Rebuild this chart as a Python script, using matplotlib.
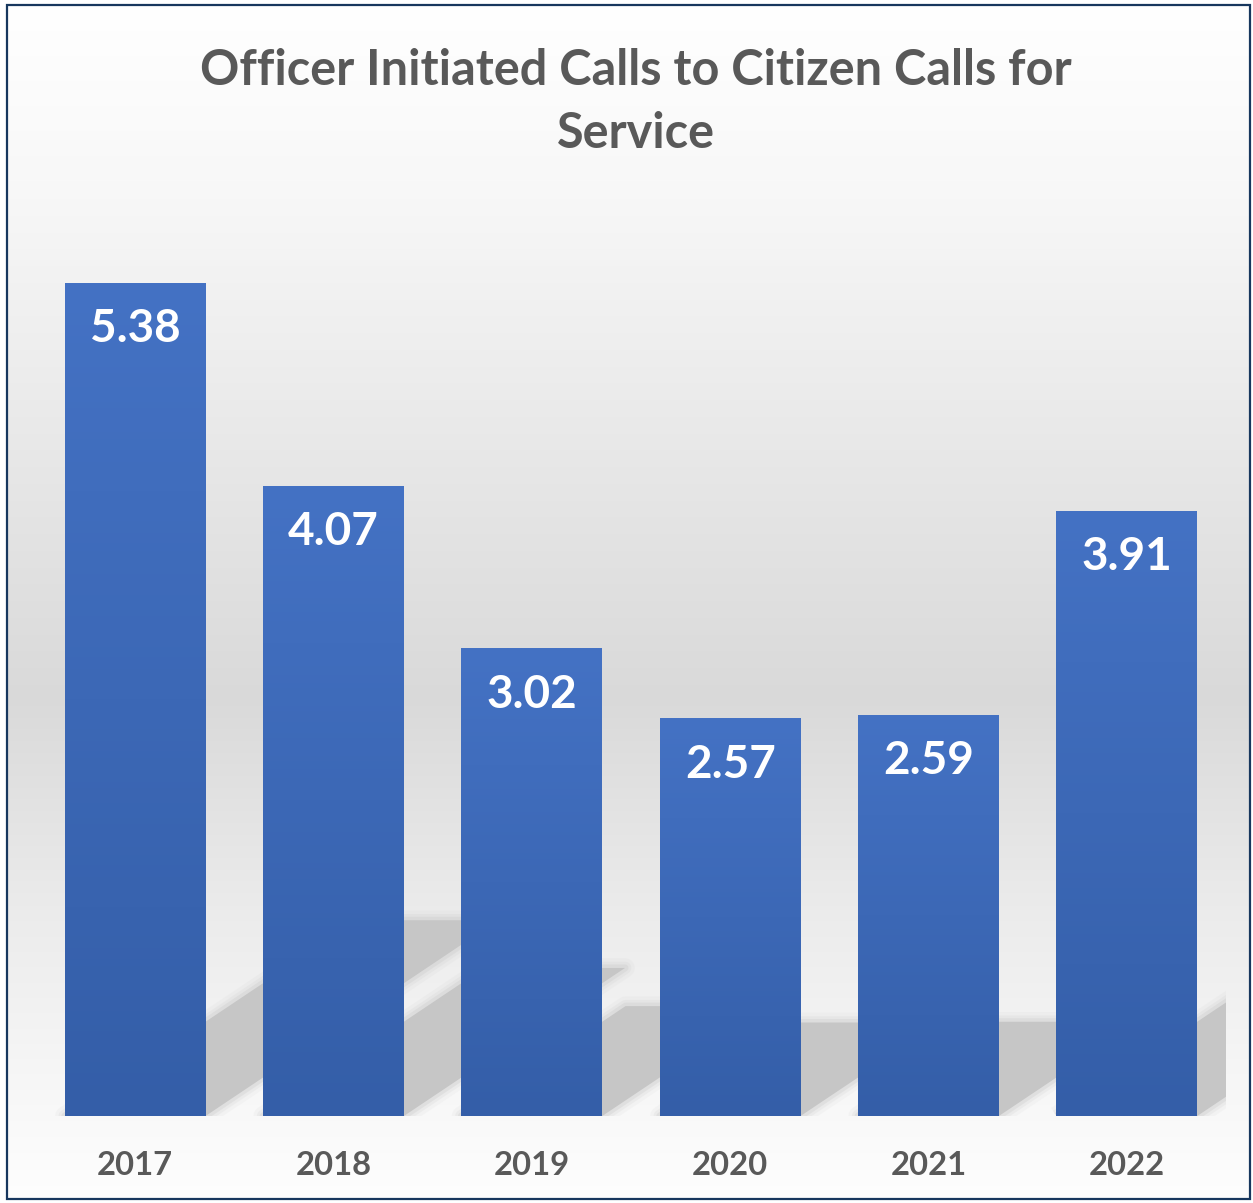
import numpy as np
import matplotlib
matplotlib.use("Agg")
import matplotlib.pyplot as plt
from matplotlib.patches import Polygon, Rectangle

years = ["2017", "2018", "2019", "2020", "2021", "2022"]
values = [5.38, 4.07, 3.02, 2.57, 2.59, 3.91]
value_labels = ["5.38", "4.07", "3.02", "2.57", "2.59", "3.91"]
title = "Officer Initiated Calls to Citizen Calls for\nService"

FONT = ["Lato", "DejaVu Sans"]
TEXT_COLOR = "#595959"
W, H = 1253, 1203

fig = plt.figure(figsize=(W / 100, H / 100), dpi=100)
fig.patch.set_facecolor("white")

# background gradient inside the border (vertical)
bx0, bx1, by_top, by_bot = 6.5, 1250, 5, 1199
bg = fig.add_axes([bx0 / W, (H - by_bot) / H, (bx1 - bx0) / W, (by_bot - by_top) / H], zorder=-10)
bg.axis("off")
yy = np.linspace(0, 1, 600)
g = np.interp(yy, [0, 0.15, 0.58, 0.75, 0.93, 1.0], [1.0, 0.972, 0.852, 0.92, 0.975, 0.995])
img = np.repeat(np.stack([g, g, g], axis=-1)[:, None, :], 2, axis=1)
bg.imshow(img, aspect="auto", extent=[0, 1, 0, 1], interpolation="bilinear")
bg.set_xlim(0, 1)
bg.set_ylim(0, 1)

# border
fig.patches.append(Rectangle((bx0 / W, (H - by_bot) / H), (bx1 - bx0) / W, (by_bot - by_top) / H,
                             transform=fig.transFigure, fill=False, edgecolor="#17375E", lw=1.6,
                             zorder=20))

# main axes
ax = fig.add_axes([36 / W, 87 / H, (1226 - 36) / W, (1116 - 187) / H])
ax.patch.set_alpha(0)
for s in ax.spines.values():
    s.set_visible(False)

x = np.arange(len(values))
width = 0.71

# floor shadows (derived from bar geometry)
shadow_c = "#C6C6C6"
for i, v in zip(x, values):
    x0, x1 = i - width / 2, i + width / 2
    dx, dy = 0.274 * v, 0.235 * v
    pts = [(x0, 0), (x1, 0), (x1 + dx, dy), (x0 + dx, dy)]
    for lw, a in [(14, 0.10), (9, 0.16), (5, 0.28)]:
        ax.add_patch(Polygon(pts, closed=True, fill=False, edgecolor=shadow_c, lw=lw,
                             alpha=a, joinstyle="round", zorder=1))
    ax.add_patch(Polygon(pts, closed=True, facecolor=shadow_c, edgecolor="none", zorder=1.5))

bars = ax.bar(x, values, width=width, color="#4472C4", edgecolor="none", zorder=3)

top_c = np.array([68, 114, 196]) / 255
bot_c = np.array([52, 94, 168]) / 255
t = np.linspace(0, 1, 256)[:, None]
grad = (top_c[None, :] * (1 - t) + bot_c[None, :] * t)[:, None, :]
grad = np.repeat(grad, 2, axis=1)
for b, v in zip(bars, values):
    bx = b.get_x()
    im = ax.imshow(grad, extent=[bx, bx + b.get_width(), 0, v], aspect="auto",
                   interpolation="bilinear", zorder=3.5)
    im.set_clip_path(b)

for i, v, lab in zip(x, values, value_labels):
    ax.text(i, v - 0.30, lab, ha="center", va="center", color="white",
            fontsize=33, fontweight="bold", family=FONT, zorder=5)

ax.set_xlim(-0.5, 5.5)
ax.set_ylim(0, 6)
ax.set_yticks([])
ax.set_xticks(x)
ax.set_xticklabels(years, fontsize=23.6, fontweight="bold", color=TEXT_COLOR, family=FONT)
ax.tick_params(axis="x", length=0, pad=25)

fig.text(636 / W, 1 - 102 / H, title, ha="center", va="center", fontsize=35,
         fontweight="bold", color=TEXT_COLOR, family=FONT, linespacing=1.5)

fig.savefig("out.png", dpi=100)
